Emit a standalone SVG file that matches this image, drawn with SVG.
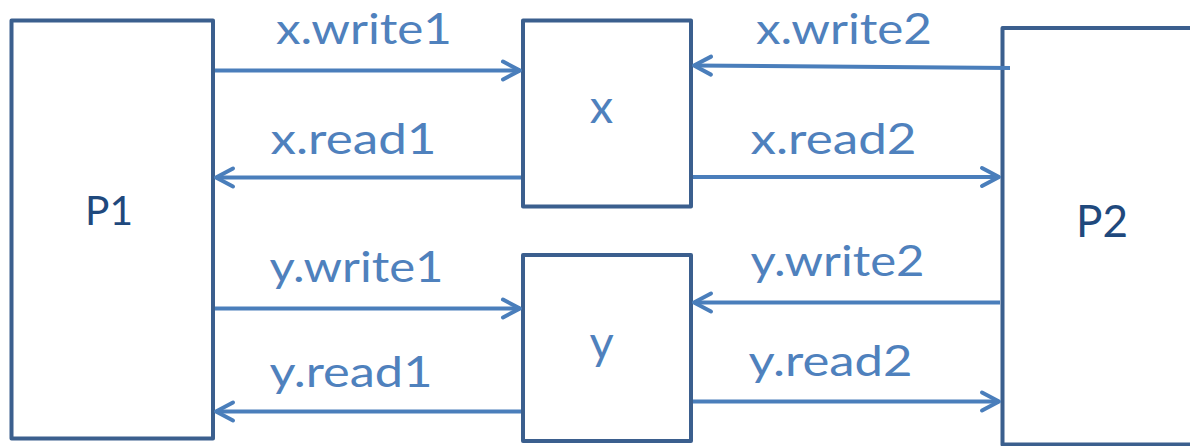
<svg xmlns="http://www.w3.org/2000/svg" width="1190" height="446" viewBox="0 0 1190 446">
  <style>
    .box { fill: #FFFFFF; stroke: #3B5F8E; stroke-width: 4; stroke-linejoin: round; }
    .lbl { font-family: Lato, "Open Sans", sans-serif; font-size: 43px; fill: #4F81BD; }
    .name { font-family: Lato, "Open Sans", sans-serif; fill: #1F497D; }
    .var { font-family: Lato, "Open Sans", sans-serif; font-size: 47px; fill: #4F81BD; text-anchor: middle; }
    .conn { fill: none; stroke: #4A7EBB; stroke-width: 4; marker-end: url(#arrow); }
  </style>
  <defs>
    <marker id="arrow" markerUnits="userSpaceOnUse" viewBox="-22 -13 26 26" markerWidth="26" markerHeight="26" refX="0" refY="0" orient="auto" overflow="visible">
      <path d="M -17 -9 L 0 0 L -17 9" fill="none" stroke="#4A7EBB" stroke-width="4" stroke-linecap="round" stroke-linejoin="round"/>
    </marker>
  </defs>
  <rect width="1190" height="446" fill="#FFFFFF"/>

  <g id="P1">
    <rect class="box" x="11.5" y="20.5" width="201.5" height="418"/>
    <text class="name" x="85" y="225" font-size="41" textLength="48" lengthAdjust="spacingAndGlyphs">P1</text>
  </g>
  <g id="x">
    <rect class="box" x="523" y="20.5" width="168" height="186"/>
    <text class="var" x="601.5" y="122.5">x</text>
  </g>
  <g id="y">
    <rect class="box" x="523" y="255" width="168" height="186"/>
    <text class="var" x="601.5" y="359">y</text>
  </g>
  <g id="P2">
    <rect class="box" x="1002.5" y="28" width="200" height="416.5"/>
    <text class="name" x="1076" y="236.5" font-size="45" textLength="52" lengthAdjust="spacingAndGlyphs">P2</text>
  </g>

  <g id="connectors">
    <line class="conn" x1="215" y1="70.5" x2="520" y2="70.5"/>
    <line class="conn" x1="521" y1="177.5" x2="216" y2="177.5"/>
    <line class="conn" x1="1010" y1="68" x2="694" y2="65.5"/>
    <line class="conn" x1="693" y1="177" x2="999" y2="177"/>
    <line class="conn" x1="215" y1="308.5" x2="520" y2="308.5"/>
    <line class="conn" x1="521" y1="411.5" x2="216" y2="411.5"/>
    <line class="conn" x1="1000" y1="302.5" x2="694" y2="302.5"/>
    <line class="conn" x1="693" y1="401.5" x2="999" y2="401.5"/>
  </g>

  <g id="labels">
    <text class="lbl" x="276" y="43.5" textLength="176" lengthAdjust="spacingAndGlyphs">x.write1</text>
    <text class="lbl" x="270.5" y="153.5" textLength="166" lengthAdjust="spacingAndGlyphs">x.read1</text>
    <text class="lbl" x="756" y="43.5" textLength="176" lengthAdjust="spacingAndGlyphs">x.write2</text>
    <text class="lbl" x="750.5" y="153.5" textLength="166" lengthAdjust="spacingAndGlyphs">x.read2</text>
    <text class="lbl" x="269.5" y="282" textLength="174" lengthAdjust="spacingAndGlyphs">y.write1</text>
    <text class="lbl" x="269.5" y="387" textLength="163" lengthAdjust="spacingAndGlyphs">y.read1</text>
    <text class="lbl" x="750.5" y="275.5" textLength="174" lengthAdjust="spacingAndGlyphs">y.write2</text>
    <text class="lbl" x="748.5" y="376" textLength="164" lengthAdjust="spacingAndGlyphs">y.read2</text>
  </g>
</svg>
